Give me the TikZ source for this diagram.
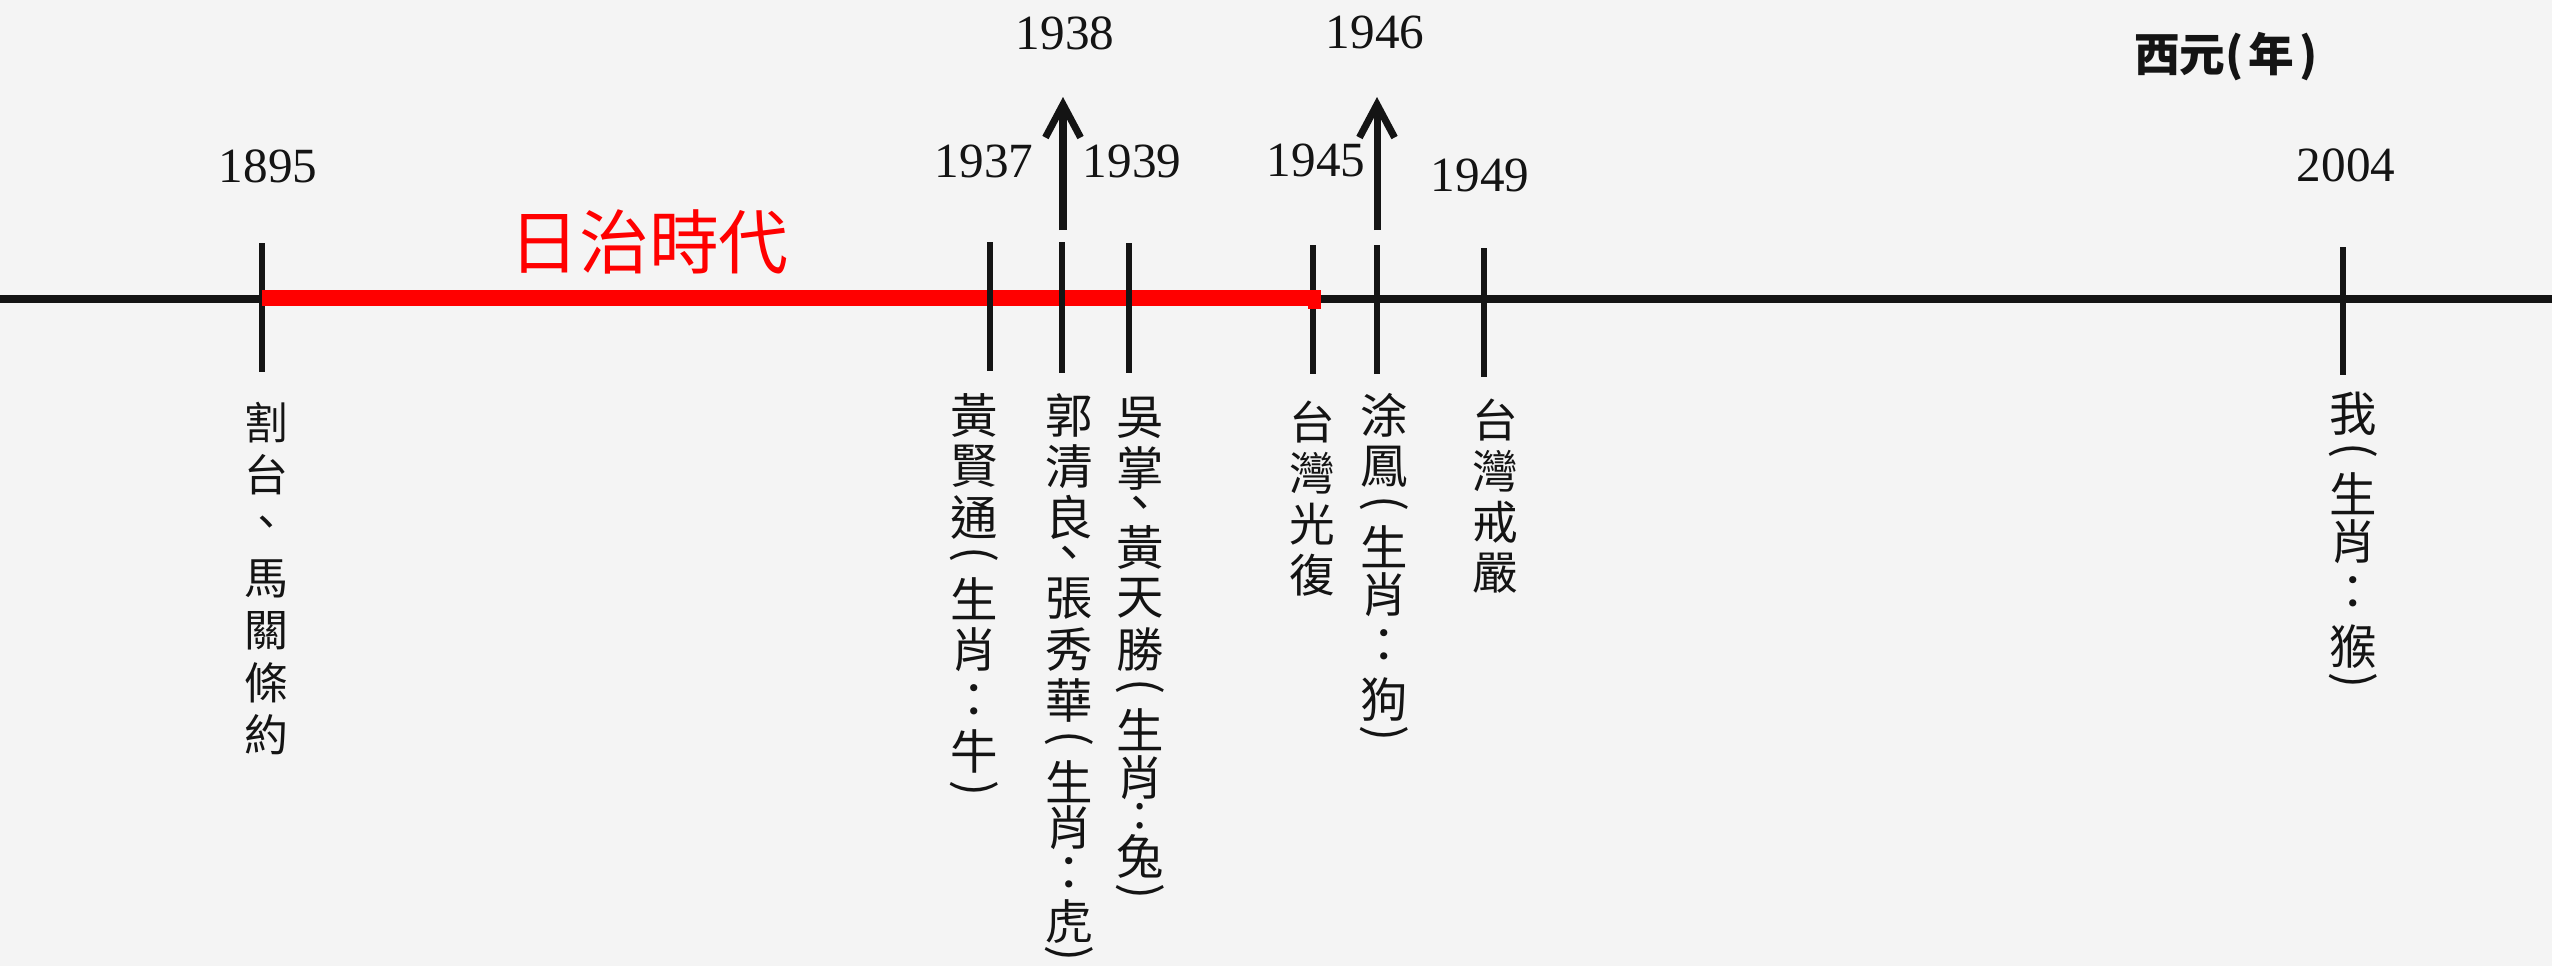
\documentclass[tikz,border=0pt]{standalone}
\usepackage{fontspec}
\setmainfont{Liberation Serif}
\newfontfamily\cjk{Noto Sans CJK TC}
\usepackage{graphicx}
\usetikzlibrary{arrows.meta}
\newdimen\p \p=0.28453pt
\newcommand\gslot[2]{\vbox to #1\p{\vss\hbox to 1.2em{\hss#2\hss}\vss}}
\newcommand\rpl{\rotatebox[origin=c]{-90}{(}}
\newcommand\rpr{\rotatebox[origin=c]{-90}{)}}
\definecolor{paper}{RGB}{244,244,244}
\definecolor{ink}{RGB}{20,20,20}
\begin{document}
\begin{tikzpicture}[x=0.1mm,y=-0.1mm,
  axisline/.style={line width=2.28pt, ink},
  tickline/.style={line width=1.85pt, ink},
  eraline/.style={line width=4.55pt, red},
  uparrow/.style={line width=2pt, ink, -{Straight Barb[length=9.4pt,width=10pt]}},
  yr/.style={font=\fontsize{14pt}{16pt}\selectfont, text=ink, inner sep=0pt},
  lab/.style={anchor=north, inner sep=0pt, text=ink},
  labA/.style={lab, font=\cjk\fontsize{12.5pt}{15pt}\selectfont},
  labB/.style={lab, font=\cjk\fontsize{13.5pt}{16pt}\selectfont},
  labC/.style={lab, font=\cjk\fontsize{13pt}{16pt}\selectfont},
  era/.style={font=\cjk\fontsize{19.9pt}{24pt}\selectfont, text=red, inner sep=0pt},
  unit/.style={font=\cjk\bfseries\fontsize{13pt}{16pt}\selectfont, text=ink, inner sep=0pt}]
\useasboundingbox (0,0) rectangle (2552,966);
\fill[paper] (0,0) rectangle (2552,966);
% axis
\coordinate (axL) at (0,299);
\coordinate (axR) at (2552,299);
\draw[axisline] (axL) -- (axR);
% ticks under the era line
\foreach \n/\x/\t/\b in {1895/262/243/372, 1945/1313/245/374, 1946/1377/245/374, 1949/1484/248/377, 2004/2343/247/375}{
  \coordinate (ta\n) at (\x,\t);
  \coordinate (tb\n) at (\x,\b);
  \draw[tickline] (ta\n) -- (tb\n);
}
% era line
\coordinate (eraA) at (262,298);
\coordinate (eraB) at (1310,298);
\draw[eraline] (eraA) -- (eraB);
\coordinate (eraC) at (1308,290);
\coordinate (eraD) at (1321,309);
\fill[red] (eraC) rectangle (eraD);
% ticks over the era line
\foreach \n/\x/\t/\b in {1937/990/242/371, 1938/1062/242/373, 1939/1129/243/373}{
  \coordinate (ta\n) at (\x,\t);
  \coordinate (tb\n) at (\x,\b);
  \draw[tickline] (ta\n) -- (tb\n);
}
% arrows
\coordinate (arA1938) at (1063,230);
\coordinate (arB1938) at (1063,97);
\draw[uparrow] (arA1938) -- (arB1938);
\coordinate (arA1946) at (1377,230);
\coordinate (arB1946) at (1377,97);
\draw[uparrow] (arA1946) -- (arB1946);
% year labels
\node[yr] (n1895) at (268,166) {1895};
\node[yr] (n1937) at (984,161) {1937};
\node[yr] (n1938) at (1065,33) {1938};
\node[yr] (n1939) at (1132,161) {1939};
\node[yr] (n1945) at (1316,160) {1945};
\node[yr] (n1946) at (1375,32) {1946};
\node[yr] (n1949) at (1480,175) {1949};
\node[yr] (n2004) at (2346,165) {2004};
\node[unit] (unit) at (2226,57) {西元(\hspace{5\p}年\hspace{5\p})};
\node[era] (era) at (649,242) {日治時代};
% vertical labels
\node[labA] (c1895) at (266,396) {\vbox{\offinterlineskip
  \gslot{52}{割}\gslot{52}{台}\gslot{52}{、}\gslot{52}{馬}\gslot{52}{關}\gslot{52}{條}\gslot{52}{約}}};
\node[labB] (c1937) at (974,389.5) {\vbox{\offinterlineskip
  \gslot{51}{黃}\gslot{51}{賢}\gslot{51}{通}\gslot{30}{\rpl}\gslot{51}{生}\gslot{51}{肖}\gslot{51}{：}\gslot{51}{牛}\gslot{30}{\rpr}}};
\node[labB] (c1938) at (1069,389.5) {\vbox{\offinterlineskip
  \gslot{51}{郭}\gslot{51}{清}\gslot{51}{良}\gslot{30}{、}\gslot{51}{張}\gslot{51}{秀}\gslot{51}{華}\gslot{32}{\rpl}\gslot{46}{生}\gslot{46}{肖}\gslot{48}{：}\gslot{46}{虎}\gslot{26}{\rpr}}};
\node[labB] (c1939) at (1140,391.5) {\vbox{\offinterlineskip
  \gslot{51}{吳}\gslot{51}{掌}\gslot{28}{、}\gslot{51}{黃}\gslot{51}{天}\gslot{51}{勝}\gslot{30}{\rpl}\gslot{48}{生}\gslot{48}{肖}\gslot{30}{:}\gslot{50}{兔}\gslot{28}{\rpr}}};
\node[labC] (c1945) at (1312,395.5) {\vbox{\offinterlineskip
  \gslot{51}{台}\gslot{51}{灣}\gslot{51}{光}\gslot{51}{復}}};
\node[labB] (c1946) at (1384,389.5) {\vbox{\offinterlineskip
  \gslot{51}{涂}\gslot{51}{鳳}\gslot{30}{\rpl}\gslot{48}{生}\gslot{48}{肖}\gslot{56}{：}\gslot{50}{狗}\gslot{26}{\rpr}}};
\node[labC] (c1949) at (1495,394) {\vbox{\offinterlineskip
  \gslot{51}{台}\gslot{51}{灣}\gslot{51}{戒}\gslot{51}{嚴}}};
\node[labB] (c2004) at (2353,387.5) {\vbox{\offinterlineskip
  \gslot{51}{我}\gslot{30}{\rpl}\gslot{48}{生}\gslot{48}{肖}\gslot{56}{：}\gslot{50}{猴}\gslot{26}{\rpr}}};
\end{tikzpicture}
\end{document}
